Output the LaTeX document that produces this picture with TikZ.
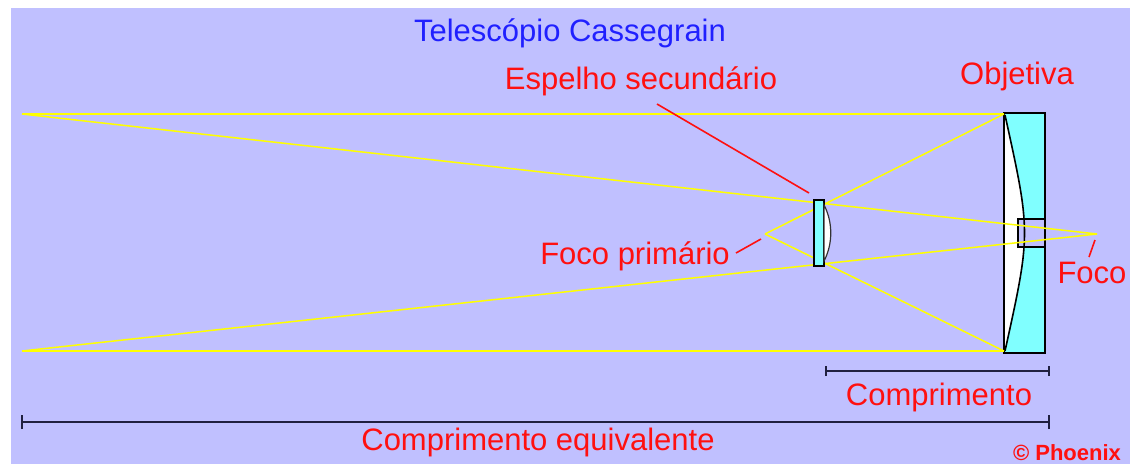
\documentclass[tikz,border=0pt]{standalone}
\usepackage{fontspec}
\setmainfont{Liberation Sans}
\definecolor{sky}{RGB}{192,192,255}
\definecolor{lenscyan}{RGB}{128,255,255}
\definecolor{ray}{RGB}{255,255,0}
\definecolor{labelred}{RGB}{255,16,16}
\definecolor{titleblue}{RGB}{32,32,255}
\definecolor{bar}{RGB}{32,32,64}
\tikzset{
  lbl/.style={inner sep=0pt, anchor=base, text=labelred, font=\fontsize{31}{31}\selectfont},
  raystyle/.style={draw=ray, line width=1.5pt},
  leader/.style={draw=labelred, line width=1.6pt},
  dimbar/.style={draw=bar, line width=2pt},
  optic/.style={draw=black, line width=2pt},
}
\begin{document}
\begin{tikzpicture}[x=1pt,y=-1pt]
\useasboundingbox (0,0) rectangle (1130,464);
\fill[sky] (11,8) rectangle (1130,464);

% key points of the ray diagram
\coordinate (topL) at (22,114);
\coordinate (botL) at (22,351);
\coordinate (objT) at (1004,114);
\coordinate (objB) at (1004,351);
\coordinate (fprim) at (765,234);
\coordinate (focus) at (1097,234);

% primary mirror (objective) with central hole
\fill[lenscyan] (1004,113) rectangle (1045,353);
\fill[white] (1004,113) .. controls (1031,233) .. (1004,353) -- cycle;
\fill[sky] (1018,219) rectangle (1045,247);
\draw[draw=black, line width=1.6pt] (1005,115) .. controls (1031,233) .. (1005,351);
\draw[optic] (1018,219) rectangle (1045,247);
\draw[optic] (1004,113) rectangle (1045,353);

% rays
\draw[raystyle] (topL) -- (objT);
\draw[raystyle] (botL) -- (objB);
\draw[raystyle] (objT) -- (fprim);
\draw[raystyle] (objB) -- (fprim);
\draw[raystyle] (topL) -- (focus);
\draw[raystyle] (botL) -- (focus);

% secondary mirror
\draw[optic, fill=lenscyan] (814,200) rectangle (824,266);
\draw[draw=black!80, line width=1.2pt, fill=white] (824,205) .. controls (833,222) and (833,244) .. (824,261) -- cycle;

% labels
\node[lbl, text=titleblue] (title) at (570,41) {Telescópio Cassegrain};
\node[lbl] (sec) at (641,89) {Espelho secundário};
\node[lbl] (obj) at (1017,84) {Objetiva};
\node[lbl] (fp) at (635,264) {Foco primário};
\node[lbl] (fo) at (1092,283) {Foco};
\node[lbl] (len) at (939,405) {Comprimento};
\node[lbl] (eqlen) at (538,450) {Comprimento equivalente};
\node[inner sep=0pt, anchor=base, text=labelred, font=\fontsize{22}{22}\selectfont\bfseries] (copy) at (1067,460) {© Phoenix};

% leader lines
\coordinate (secA) at (657,104);
\coordinate (secB) at (809,193);
\draw[leader] (secA) -- (secB);
\coordinate (fpA) at (736,253);
\coordinate (fpB) at (761,239);
\draw[leader] (fpA) -- (fpB);
\coordinate (foA) at (1089,257);
\coordinate (foB) at (1095,240);
\draw[leader] (foA) -- (foB);

% length bars
\coordinate (lenL) at (826,371);
\coordinate (lenR) at (1049,371);
\draw[dimbar] (lenL) -- (lenR);
\draw[dimbar] ([yshift=-5pt]lenL) -- ([yshift=5pt]lenL);
\draw[dimbar] ([yshift=-5pt]lenR) -- ([yshift=5pt]lenR);
\coordinate (eqL) at (22,422);
\coordinate (eqR) at (1049,422);
\draw[dimbar] (eqL) -- (eqR);
\draw[dimbar] ([yshift=-7pt]eqL) -- ([yshift=7pt]eqL);
\draw[dimbar] ([yshift=-7pt]eqR) -- ([yshift=7pt]eqR);
\end{tikzpicture}
\end{document}
